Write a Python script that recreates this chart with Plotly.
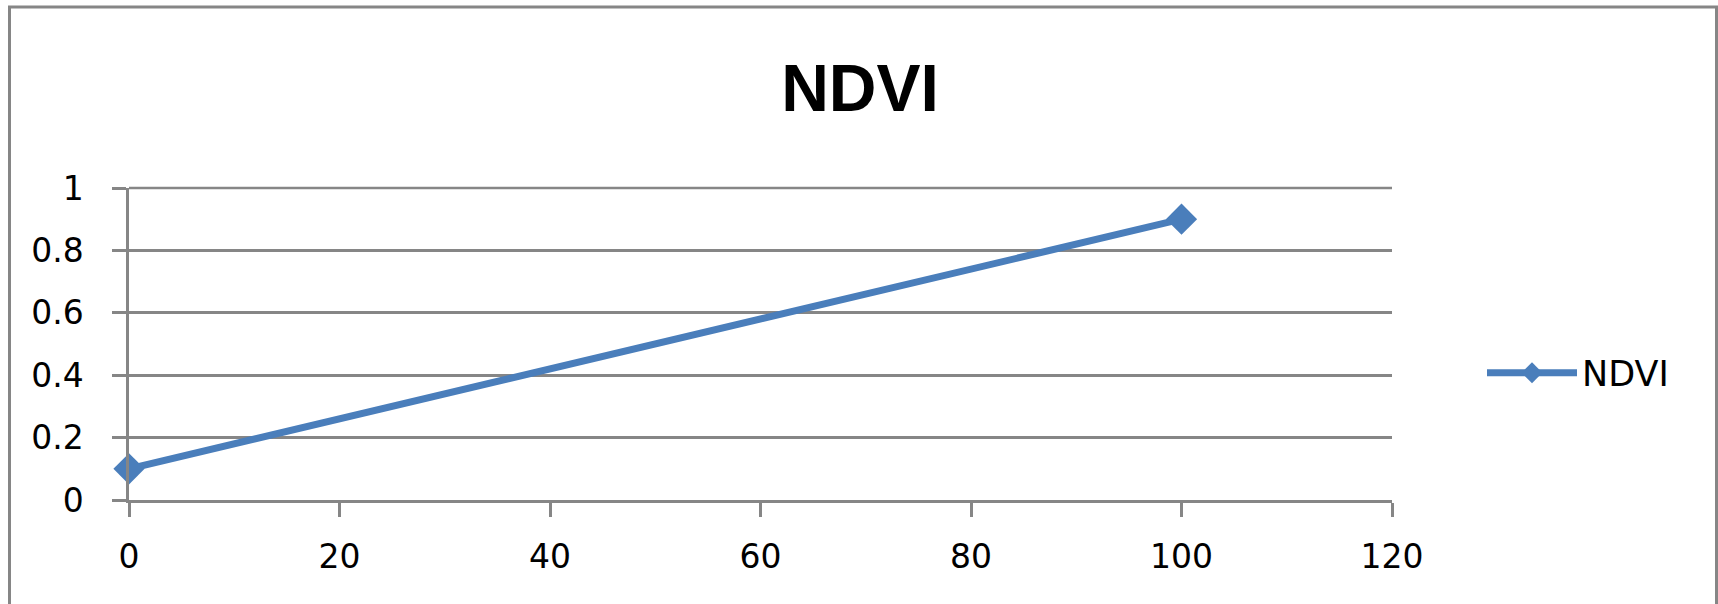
import plotly.graph_objects as go

# NDVI samples
x_vals = [0, 100]
ndvi = [0.1, 0.9]

x_ticks = [0, 20, 40, 60, 80, 100, 120]
y_ticks = [0, 0.2, 0.4, 0.6, 0.8, 1]
y_tick_text = ["0", "0.2", "0.4", "0.6", "0.8", "1"]

LINE_BLUE = "#4a7ebb"
GRID = "#868686"

W, H = 1718, 604
L, R, T, B = 129, 326, 188, 104
pw, ph = W - L - R, H - T - B

fig = go.Figure()
fig.add_trace(go.Scatter(
    x=x_vals, y=ndvi, name="NDVI", mode="lines+markers",
    line=dict(color=LINE_BLUE, width=7),
    marker=dict(symbol="diamond", size=24, color=LINE_BLUE),
    cliponaxis=False,
))

axis_common = dict(
    showline=True, linecolor=GRID, linewidth=2.5,
    ticks="outside", ticklen=14, tickwidth=2.5, tickcolor=GRID,
    zeroline=False,
    tickfont=dict(family="DejaVu Sans", size=33, color="black"),
)

fig.update_layout(
    width=W, height=H,
    margin=dict(l=L, r=R, t=T, b=B),
    paper_bgcolor="white", plot_bgcolor="white",
    title=dict(
        text="<b>NDVI</b>", x=860 / W, xanchor="center",
        y=1 - 88 / H, yanchor="middle",
        font=dict(family="Liberation Sans", size=66, color="black"),
    ),
    xaxis=dict(range=[0, 120], tickvals=x_ticks, showgrid=False,
               ticklabelstandoff=12, **axis_common),
    yaxis=dict(range=[0, 1], tickvals=y_ticks, ticktext=y_tick_text,
               showgrid=True, gridcolor=GRID, gridwidth=2.5,
               ticklabelstandoff=22, **axis_common),
    showlegend=True,
    legend=dict(
        x=(1482 - L) / pw, xanchor="left",
        y=(H - B - 373) / ph, yanchor="middle",
        font=dict(family="DejaVu Sans", size=35, color="black"),
        itemwidth=90, bgcolor="rgba(0,0,0,0)",
    ),
    shapes=[
        # chart-area frame
        dict(
            type="rect", xref="paper", yref="paper",
            x0=(9.5 - L) / pw, x1=(1716.5 - L) / pw,
            y0=-1.0, y1=(H - B - 7) / ph,
            line=dict(color=GRID, width=3), fillcolor="rgba(0,0,0,0)",
            layer="below",
        ),
        # gridline along the top of the plot area (value 1)
        dict(
            type="line", xref="paper", yref="paper",
            x0=0, x1=1, y0=1, y1=1,
            line=dict(color=GRID, width=2.5), layer="below",
        ),
    ],
)

fig.write_html("out.html")
